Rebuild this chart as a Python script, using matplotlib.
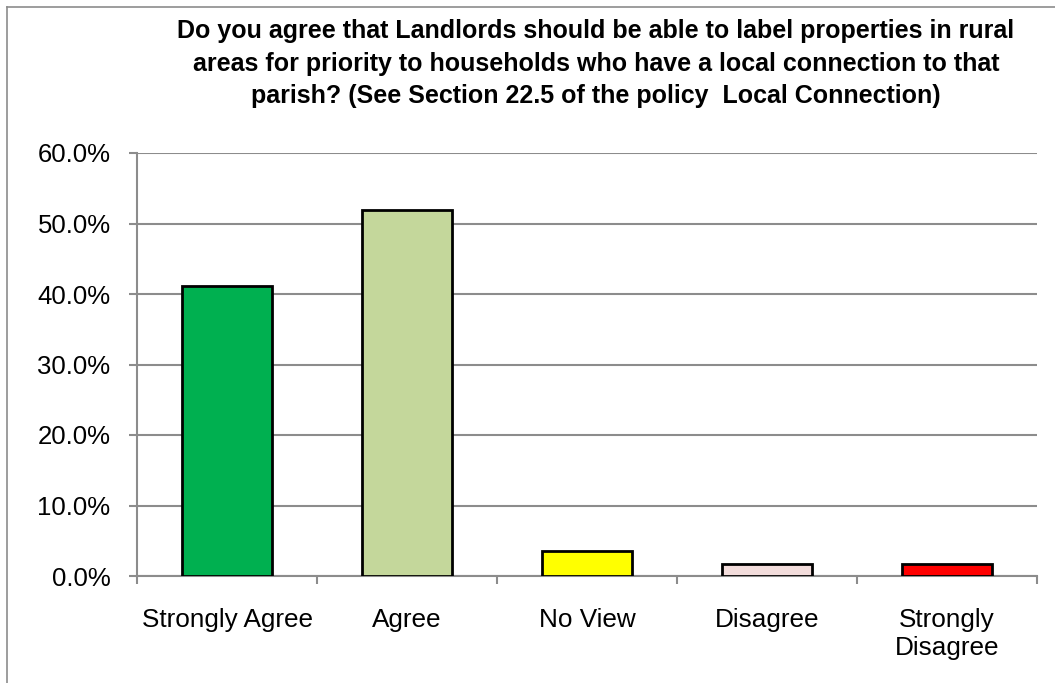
import matplotlib
matplotlib.use("Agg")
import matplotlib.pyplot as plt
from matplotlib.ticker import FuncFormatter, FixedLocator
from matplotlib.lines import Line2D

categories = ["Strongly Agree", "Agree", "No View", "Disagree", "Strongly\nDisagree"]
values = [41.1, 51.9, 3.5, 1.7, 1.7]
colors = ["#00B050", "#C4D79B", "#FFFF00", "#F2DCDB", "#FF0000"]
yticks = [0, 10, 20, 30, 40, 50, 60]
title = ("Do you agree that Landlords should be able to label properties in rural\n"
         "areas for priority to households who have a local connection to that\n"
         "parish? (See Section 22.5 of the policy  Local Connection)")

plt.rcParams['font.family'] = ['Liberation Sans', 'DejaVu Sans']

fig = plt.figure(figsize=(10.55, 6.83), dpi=100)
ax = fig.add_axes([137/1055, 1-576/683, 900/1055, 423/683])

x = list(range(len(categories)))
ax.bar(x, values, width=0.5, color=colors, edgecolor="black", linewidth=2, zorder=3)

ax.set_xlim(-0.5, len(categories) - 0.5)
ax.set_ylim(0, 60)
ax.set_yticks(yticks)
ax.yaxis.set_major_formatter(FuncFormatter(lambda v, p: f"{v:.1f}%"))
ax.grid(axis="y", color="#8c8c8c", linewidth=1.5, zorder=0)
ax.set_axisbelow(True)

ax.set_xticks(x)
ax.set_xticklabels(categories, fontsize=18.8, linespacing=1.2)
ax.xaxis.set_minor_locator(FixedLocator([i - 0.5 for i in range(len(categories) + 1)]))
ax.tick_params(axis="x", which="major", length=0, pad=23)
ax.tick_params(axis="x", which="minor", length=6, width=1.5, color="#8c8c8c", direction="out")
ax.tick_params(axis="y", length=6, width=1.5, color="#8c8c8c", direction="out", labelsize=18.5, pad=13)

for s in ["top", "right"]:
    ax.spines[s].set_visible(False)
for s in ["left", "bottom"]:
    ax.spines[s].set_color("#8c8c8c")
    ax.spines[s].set_linewidth(1.5)

fig.text(596/1055, 1-19/683, title, ha="center", va="top", fontsize=18,
         fontweight="bold", linespacing=1.45)

# outer frame lines (top and left)
fig.add_artist(Line2D([7/1055, 1.0], [1-7/683, 1-7/683], transform=fig.transFigure, color="#8c8c8c", linewidth=1.2))
fig.add_artist(Line2D([7/1055, 7/1055], [1-7/683, 0], transform=fig.transFigure, color="#8c8c8c", linewidth=1.2))

fig.savefig("out.png", dpi=100)
